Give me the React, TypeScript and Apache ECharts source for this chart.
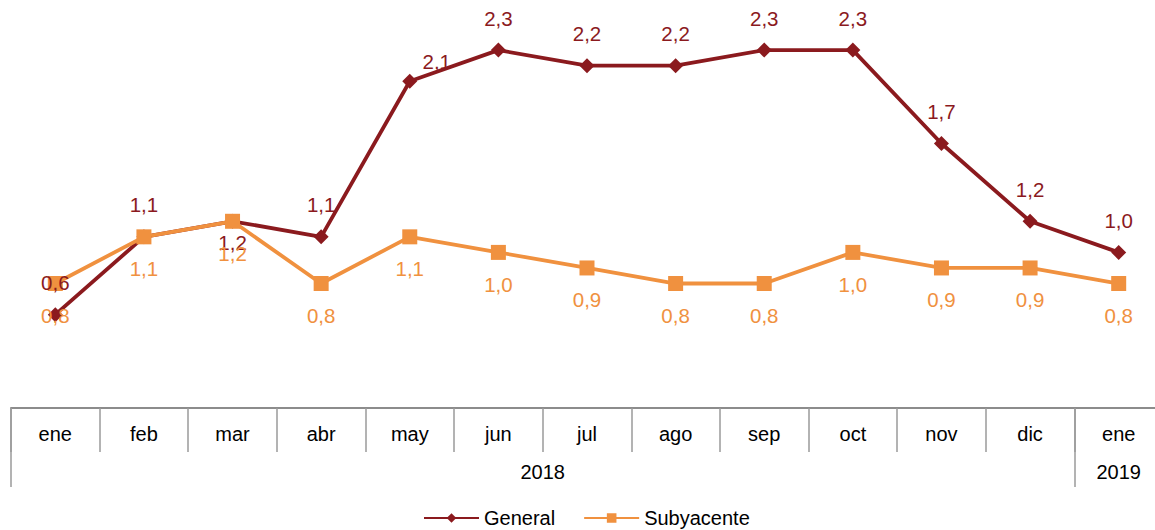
import React, { useEffect, useRef } from "react";
import * as echarts from "echarts";

const months = ["ene", "feb", "mar", "abr", "may", "jun", "jul", "ago", "sep", "oct", "nov", "dic", "ene"];
const years = ["2018", "2019"];
const general = [0.6, 1.1, 1.2, 1.1, 2.1, 2.3, 2.2, 2.2, 2.3, 2.3, 1.7, 1.2, 1.0];
const subyacente = [0.8, 1.1, 1.2, 0.8, 1.1, 1.0, 0.9, 0.8, 0.8, 1.0, 0.9, 0.9, 0.8];

const RED = "#8B1A1E";
const ORANGE = "#F0913F";
const FONT = "Liberation Sans, Arial, sans-serif";

const fmt = (v: number) => v.toFixed(1).replace(".", ",");

export default function App() {
  const ref = useRef<HTMLDivElement>(null);
  useEffect(() => {
    if (!ref.current) return;
    const chart = echarts.init(ref.current, null, { renderer: "svg" });
    const genData = general.map((v, i) => {
      if (i === 2) return { value: v, label: { position: "bottom", distance: 3 } };
      if (i === 4) return { value: v, label: { offset: [27, 12] } };
      return v;
    });
    chart.setOption({
      animation: false,
      textStyle: { fontFamily: FONT },
      grid: { left: 11, right: 0, top: 19, bottom: 122, containLabel: false },
      xAxis: [
        {
          type: "category",
          data: months,
          boundaryGap: true,
          position: "bottom",
          axisLine: { show: true, lineStyle: { color: "#8c8c8c", width: 2 } },
          axisTick: { show: true, length: 44, lineStyle: { color: "#9a9a9a", width: 1.5 } },
          axisLabel: { fontSize: 20, color: "#000", margin: 16, fontFamily: FONT },
          splitLine: { show: false },
        },
        {
          type: "value",
          min: 0,
          max: 13,
          position: "bottom",
          axisLine: { show: false },
          splitLine: { show: false },
          axisTick: { show: true, customValues: [0, 12], length: 79, lineStyle: { color: "#9a9a9a", width: 1.5 } },
          axisLabel: {
            show: true,
            customValues: [6, 12.5],
            formatter: (v: number) => (v < 12 ? years[0] : years[1]),
            fontSize: 20,
            color: "#000",
            margin: 54,
            fontFamily: FONT,
          },
        },
      ],
      yAxis: { type: "value", min: 0, max: 2.5, show: false, splitLine: { show: false } },
      legend: {
        left: 418,
        top: 503,
        itemWidth: 55,
        itemHeight: 12,
        itemGap: 28,
        textStyle: { fontSize: 20, color: "#000", fontFamily: FONT },
        data: ["General", "Subyacente"],
      },
      series: [
        {
          name: "General",
          type: "line",
          xAxisIndex: 0,
          data: genData,
          symbol: "diamond",
          symbolSize: 15,
          lineStyle: { color: RED, width: 3.8 },
          itemStyle: { color: RED },
          label: { show: true, position: "top", distance: 14, color: RED, fontSize: 20.5, fontFamily: FONT, formatter: (p: any) => fmt(p.value) },
        },
        {
          name: "Subyacente",
          type: "line",
          xAxisIndex: 0,
          data: subyacente,
          symbol: "rect",
          symbolSize: 15,
          lineStyle: { color: ORANGE, width: 3.8 },
          itemStyle: { color: ORANGE },
          label: { show: true, position: "bottom", distance: 14, color: ORANGE, fontSize: 20.5, fontFamily: FONT, formatter: (p: any) => fmt(p.value) },
        },
      ],
    });
    return () => chart.dispose();
  }, []);
  return (
    <div style={{ position: "fixed", left: 0, top: 0, width: 1155, height: 530, overflow: "hidden", background: "#fff" }}>
      <div ref={ref} style={{ position: "absolute", left: 0, top: 0, width: 1163, height: 530 }} />
    </div>
  );
}
